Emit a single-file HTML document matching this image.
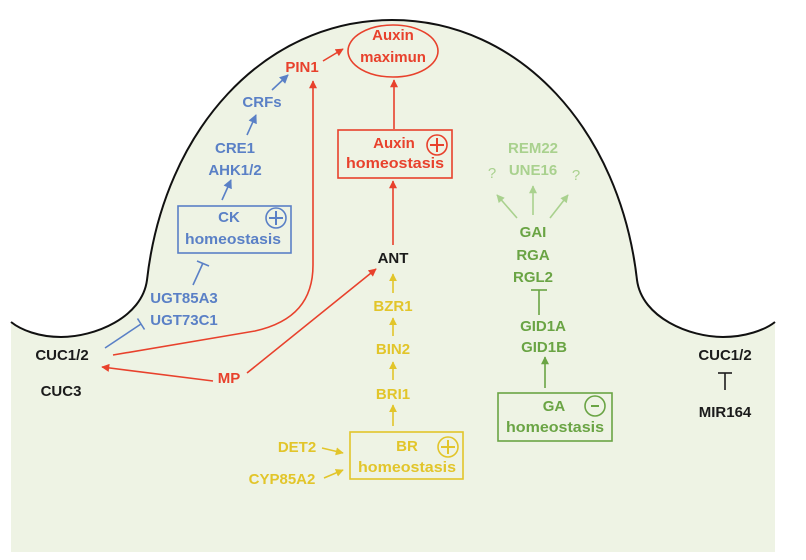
<!DOCTYPE html>
<html>
<head>
<meta charset="utf-8">
<style>
  html,body{margin:0;padding:0;background:#fff;}
  svg{display:block;}
  text{font-family:"Liberation Sans",Arial,sans-serif;font-weight:bold;font-size:15px;text-anchor:middle;}
</style>
</head>
<body>
<svg width="806" height="560" viewBox="0 0 806 560" xmlns="http://www.w3.org/2000/svg">
  <defs>
    <marker id="aR" viewBox="0 0 10 10" refX="9" refY="5" markerWidth="9" markerHeight="8" markerUnits="userSpaceOnUse" orient="auto"><path d="M0,0 L10,5 L0,10 z" fill="#e8412c"/></marker>
    <marker id="aB" viewBox="0 0 10 10" refX="9" refY="5" markerWidth="9" markerHeight="9" markerUnits="userSpaceOnUse" orient="auto"><path d="M0,0 L10,5 L0,10 z" fill="#5a80c6"/></marker>
    <marker id="aY" viewBox="0 0 10 10" refX="9" refY="5" markerWidth="8" markerHeight="8" markerUnits="userSpaceOnUse" orient="auto"><path d="M0,0 L10,5 L0,10 z" fill="#e2c52a"/></marker>
    <marker id="aG" viewBox="0 0 10 10" refX="9" refY="5" markerWidth="9" markerHeight="8" markerUnits="userSpaceOnUse" orient="auto"><path d="M0,0 L10,5 L0,10 z" fill="#6aa444"/></marker>
    <marker id="aL" viewBox="0 0 10 10" refX="9" refY="5" markerWidth="9" markerHeight="8" markerUnits="userSpaceOnUse" orient="auto"><path d="M0,0 L10,5 L0,10 z" fill="#a9d18e"/></marker>
  </defs>

  <path d="M11,322 C21,330 39,337 61,337 C94,337 142,318 147,280 C164,130 264,20 392,20 C520,20 620,130 637,280 C642,318 690,337 723,337 C745,337 765,330 775,322 L775,552 L11,552 Z" fill="#eef3e4"/>
  <path d="M11,322 C21,330 39,337 61,337 C94,337 142,318 147,280 C164,130 264,20 392,20 C520,20 620,130 637,280 C642,318 690,337 723,337 C745,337 765,330 775,322" fill="none" stroke="#111" stroke-width="2"/>

  <!-- RED -->
  <g stroke="#e8412c" stroke-width="1.6" fill="none">
    <ellipse cx="393" cy="51" rx="45" ry="26"/>
    <rect x="338" y="130" width="114" height="48"/>
    <circle cx="437" cy="145" r="10"/>
    <line x1="437" y1="138" x2="437" y2="152" stroke-width="2"/>
    <line x1="430" y1="145" x2="444" y2="145" stroke-width="2"/>
    <line x1="323" y1="61" x2="343" y2="49" marker-end="url(#aR)"/>
    <line x1="394" y1="129" x2="394" y2="80" marker-end="url(#aR)"/>
    <line x1="393" y1="245" x2="393" y2="181" marker-end="url(#aR)"/>
    <path d="M113,355 L255,331 C295,322 313,300 313,265 L313,81" marker-end="url(#aR)"/>
    <line x1="247" y1="373" x2="376" y2="269" marker-end="url(#aR)"/>
    <line x1="213" y1="381" x2="102" y2="367" marker-end="url(#aR)"/>
  </g>
  <g fill="#e8412c">
    <text x="393" y="40">Auxin</text>
    <text x="393" y="62">maximun</text>
    <text x="302" y="72">PIN1</text>
    <text x="394" y="148">Auxin</text>
    <text x="395" y="168" textLength="98" lengthAdjust="spacingAndGlyphs">homeostasis</text>
    <text x="229" y="383">MP</text>
  </g>

  <!-- BLUE -->
  <g stroke="#5a80c6" stroke-width="1.6" fill="none">
    <rect x="178" y="206" width="113" height="47"/>
    <circle cx="276" cy="218" r="10"/>
    <line x1="276" y1="211" x2="276" y2="225" stroke-width="2"/>
    <line x1="269" y1="218" x2="283" y2="218" stroke-width="2"/>
    <line x1="222" y1="200" x2="231" y2="180" marker-end="url(#aB)"/>
    <line x1="247" y1="135" x2="256" y2="115" marker-end="url(#aB)"/>
    <line x1="272" y1="90" x2="288" y2="75" marker-end="url(#aB)"/>
    <line x1="193" y1="285" x2="203" y2="263"/>
    <line x1="197" y1="261" x2="209" y2="266"/>
    <line x1="105" y1="348" x2="141" y2="324"/>
    <line x1="137.5" y1="318.5" x2="144.5" y2="329.5"/>
  </g>
  <g fill="#5a80c6">
    <text x="229" y="222">CK</text>
    <text x="233" y="244" textLength="96" lengthAdjust="spacingAndGlyphs">homeostasis</text>
    <text x="235" y="153">CRE1</text>
    <text x="235" y="175">AHK1/2</text>
    <text x="262" y="107">CRFs</text>
    <text x="184" y="303">UGT85A3</text>
    <text x="184" y="325">UGT73C1</text>
  </g>

  <!-- BLACK -->
  <g fill="#1b1b1b">
    <text x="393" y="263">ANT</text>
    <text x="62" y="360">CUC1/2</text>
    <text x="61" y="396">CUC3</text>
    <text x="725" y="360">CUC1/2</text>
    <text x="725" y="417">MIR164</text>
  </g>
  <g stroke="#1b1b1b" stroke-width="1.6">
    <line x1="725" y1="390" x2="725" y2="373"/>
    <line x1="718" y1="373" x2="732" y2="373"/>
  </g>

  <!-- YELLOW -->
  <g stroke="#e2c52a" stroke-width="1.6" fill="none">
    <rect x="350" y="432" width="113" height="47"/>
    <circle cx="448" cy="447" r="10"/>
    <line x1="448" y1="440" x2="448" y2="454" stroke-width="2"/>
    <line x1="441" y1="447" x2="455" y2="447" stroke-width="2"/>
    <line x1="393" y1="293" x2="393" y2="274" marker-end="url(#aY)"/>
    <line x1="393" y1="336" x2="393" y2="318" marker-end="url(#aY)"/>
    <line x1="393" y1="380" x2="393" y2="362" marker-end="url(#aY)"/>
    <line x1="393" y1="426" x2="393" y2="405" marker-end="url(#aY)"/>
    <line x1="322" y1="448" x2="343" y2="453" marker-end="url(#aY)"/>
    <line x1="324" y1="478" x2="343" y2="470" marker-end="url(#aY)"/>
  </g>
  <g fill="#e2c52a">
    <text x="393" y="311">BZR1</text>
    <text x="393" y="354">BIN2</text>
    <text x="393" y="399">BRI1</text>
    <text x="407" y="451">BR</text>
    <text x="407" y="472" textLength="98" lengthAdjust="spacingAndGlyphs">homeostasis</text>
    <text x="297" y="452">DET2</text>
    <text x="282" y="484">CYP85A2</text>
  </g>

  <!-- LIGHT GREEN -->
  <g fill="#a9d18e">
    <text x="533" y="153">REM22</text>
    <text x="533" y="175">UNE16</text>
    <text x="492" y="178" style="font-weight:normal">?</text>
    <text x="576" y="180" style="font-weight:normal">?</text>
  </g>
  <g stroke="#a9d18e" stroke-width="1.6">
    <line x1="517" y1="218" x2="497" y2="195" marker-end="url(#aL)"/>
    <line x1="533" y1="215" x2="533" y2="186" marker-end="url(#aL)"/>
    <line x1="550" y1="218" x2="568" y2="195" marker-end="url(#aL)"/>
  </g>

  <!-- GREEN -->
  <g stroke="#6aa444" stroke-width="1.6" fill="none">
    <rect x="498" y="393" width="114" height="48"/>
    <circle cx="595" cy="406" r="10"/>
    <line x1="591" y1="406" x2="599" y2="406" stroke-width="2"/>
    <line x1="539" y1="315" x2="539" y2="290"/>
    <line x1="531" y1="290" x2="547" y2="290"/>
    <line x1="545" y1="388" x2="545" y2="357" marker-end="url(#aG)"/>
  </g>
  <g fill="#6aa444">
    <text x="533" y="237">GAI</text>
    <text x="533" y="260">RGA</text>
    <text x="533" y="282">RGL2</text>
    <text x="543" y="331">GID1A</text>
    <text x="544" y="352">GID1B</text>
    <text x="554" y="411">GA</text>
    <text x="555" y="432" textLength="98" lengthAdjust="spacingAndGlyphs">homeostasis</text>
  </g>
</svg>
</body>
</html>
